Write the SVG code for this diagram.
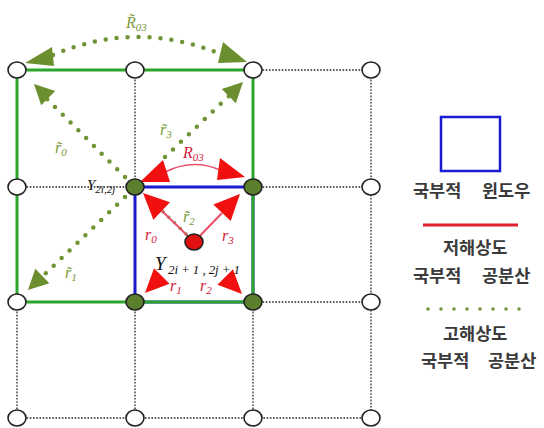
<svg xmlns="http://www.w3.org/2000/svg" width="544" height="428" viewBox="0 0 544 428">
<defs>
<style>
.grid{stroke:#222;stroke-width:1.3;stroke-dasharray:1.6 1.6;fill:none}
.gsq{stroke:#2ca52c;stroke-width:3;fill:none}
.bsq{stroke:#1a1ad0;stroke-width:3;fill:none}
.gdot{stroke:#6f9436;stroke-width:4.5;stroke-linecap:round;stroke-dasharray:0 11;fill:none}
.ghead{fill:#6b8e2e}
.rline{stroke:#e8506a;stroke-width:2;fill:none}
.rhead{fill:#f01010}
.wnode{fill:#fff;stroke:#222;stroke-width:1.6}
.gnode{fill:#5b7f2c;stroke:#222;stroke-width:1.6}
.rnode{fill:#e01010;stroke:#222;stroke-width:1.6}
.m{font-family:"Liberation Serif",serif;font-style:italic}
.red{fill:#d0203a}
.grn{fill:#7a9a3a}
.blk{fill:#111}
.leg{font-family:"Noto Sans CJK KR","Noto Sans",sans-serif;font-size:17.5px;font-weight:700;fill:#3a3a3a}
</style>
</defs>
<g id="grid">
<line class="grid" x1="253" y1="70" x2="371" y2="70"/>
<line class="grid" x1="17" y1="187" x2="135" y2="187"/>
<line class="grid" x1="253" y1="187" x2="371" y2="187"/>
<line class="grid" x1="253" y1="302" x2="371" y2="302"/>
<line class="grid" x1="17" y1="418" x2="371" y2="418"/>
<line class="grid" x1="17" y1="302" x2="17" y2="418"/>
<line class="grid" x1="135" y1="70" x2="135" y2="187"/>
<line class="grid" x1="135" y1="302" x2="135" y2="418"/>
<line class="grid" x1="253" y1="302" x2="253" y2="418"/>
<line class="grid" x1="371" y1="70" x2="371" y2="418"/>
</g>
<g id="local-window">
<rect class="bsq" x="135" y="187" width="118" height="115"/>
</g>
<g id="high-res-window">
<rect class="gsq" x="17" y="70" width="236" height="232"/>
</g>
<g id="label-y22">
<text class="m blk" x="87" y="190" font-size="15">Y<tspan font-size="11" dy="3">2i,2j</tspan></text>
</g>
<g id="connectors">
<path class="gdot" d="M53,55 Q135,20 218,53"/>
<polygon class="ghead" points="25,63 52,47 54,66"/>
<polygon class="ghead" points="247,62 223,42 218,63"/>
<line class="gdot" x1="125" y1="177" x2="46" y2="98"/>
<polygon class="ghead" points="34,84 55.2,91 41.2,105.2"/>
<line class="gdot" x1="165" y1="157" x2="230" y2="95"/>
<polygon class="ghead" points="243,82 235.8,103.2 221.8,89"/>
<line class="gdot" x1="125" y1="197" x2="43" y2="276"/>
<polygon class="ghead" points="28,290 49.3,283.2 35.3,268.8"/>
<line class="gdot" x1="186" y1="234" x2="152" y2="201" style="stroke-width:3.5;stroke-dasharray:0 8"/>
<path class="rline" d="M165,172 Q193,158 220,170" style="stroke-width:1.5"/>
<polygon class="rhead" points="140,182 163,160 170,182"/>
<polygon class="rhead" points="245,177 220,158 217,180"/>
<line class="rline" x1="194" y1="242" x2="162" y2="211"/>
<polygon class="rhead" points="143,193 170,202.3 153.4,219.7"/>
<line class="rline" x1="194" y1="242" x2="222" y2="213"/>
<polygon class="rhead" points="240,194 230.7,221.1 213.3,204.5"/>
<polygon class="rhead" points="145,293 169.6,283.7 154,268.3"/>
<polygon class="rhead" points="242,294 233,269.3 217.4,284.7"/>
</g>
<g id="nodes">
<g id="n00"><ellipse class="wnode" cx="17" cy="70" rx="9" ry="8"/></g>
<g id="n10"><ellipse class="wnode" cx="135" cy="70" rx="9" ry="8"/></g>
<g id="n20"><ellipse class="wnode" cx="253" cy="70" rx="9" ry="8"/></g>
<g id="n30"><ellipse class="wnode" cx="371" cy="70" rx="9" ry="8"/></g>
<g id="n01"><ellipse class="wnode" cx="17" cy="187" rx="9" ry="8"/></g>
<g id="n11"><ellipse class="gnode" cx="135" cy="187" rx="9" ry="8"/></g>
<g id="n21"><ellipse class="gnode" cx="253" cy="187" rx="9" ry="8"/></g>
<g id="n31"><ellipse class="wnode" cx="371" cy="187" rx="9" ry="8"/></g>
<g id="n02"><ellipse class="wnode" cx="17" cy="302" rx="9" ry="8"/></g>
<g id="n12"><ellipse class="gnode" cx="135" cy="302" rx="9" ry="8"/></g>
<g id="n22"><ellipse class="gnode" cx="253" cy="302" rx="9" ry="8"/></g>
<g id="n32"><ellipse class="wnode" cx="371" cy="302" rx="9" ry="8"/></g>
<g id="n03"><ellipse class="wnode" cx="17" cy="418" rx="9" ry="8"/></g>
<g id="n13"><ellipse class="wnode" cx="135" cy="418" rx="9" ry="8"/></g>
<g id="n23"><ellipse class="wnode" cx="253" cy="418" rx="9" ry="8"/></g>
<g id="n33"><ellipse class="wnode" cx="371" cy="418" rx="9" ry="8"/></g>
<g id="center"><ellipse class="rnode" cx="194" cy="242" rx="9" ry="8"/></g>
</g>
<g id="labels">
<text class="m grn" x="126" y="28" font-size="16">R&#x303;<tspan font-size="11" dy="3">03</tspan></text>
<text class="m grn" x="55" y="153" font-size="16">r&#x303;<tspan font-size="11" dy="3">0</tspan></text>
<text class="m grn" x="160" y="135" font-size="16">r&#x303;<tspan font-size="11" dy="3">3</tspan></text>
<text class="m grn" x="65" y="278" font-size="16">r&#x303;<tspan font-size="11" dy="3">1</tspan></text>
<text class="m grn" x="183" y="222" font-size="16">r&#x303;<tspan font-size="11" dy="3">2</tspan></text>
<text class="m red" x="183" y="158" font-size="16">R<tspan font-size="11" dy="3">03</tspan></text>
<text class="m red" x="145" y="240" font-size="16">r<tspan font-size="11" dy="3">0</tspan></text>
<text class="m red" x="222" y="241" font-size="16">r<tspan font-size="11" dy="3">3</tspan></text>
<text class="m red" x="170" y="291" font-size="16">r<tspan font-size="11" dy="3">1</tspan></text>
<text class="m red" x="200" y="291" font-size="16">r<tspan font-size="11" dy="3">2</tspan></text>
<text class="m blk" x="155" y="270" font-size="19">Y</text>
<text class="m blk" x="168" y="274" font-size="13" textLength="72">2i + 1 , 2j + 1</text>
</g>
<g id="legend">
<rect class="bsq" x="441" y="117" width="59" height="54" style="stroke-width:2.5"/>
<text class="leg" y="197"><tspan x="413">국부적</tspan><tspan x="482">윈도우</tspan></text>
<line x1="423" y1="225" x2="518" y2="225" stroke="#e02030" stroke-width="3"/>
<text class="leg" x="443" y="254">저해상도</text>
<text class="leg" y="282"><tspan x="413">국부적</tspan><tspan x="482">공분산</tspan></text>
<line class="gdot" x1="428" y1="309" x2="520" y2="309" style="stroke-width:3.5;stroke-dasharray:0 13"/>
<text class="leg" x="443" y="340">고해상도</text>
<text class="leg" y="367"><tspan x="421">국부적</tspan><tspan x="488">공분산</tspan></text>
</g>
</svg>
